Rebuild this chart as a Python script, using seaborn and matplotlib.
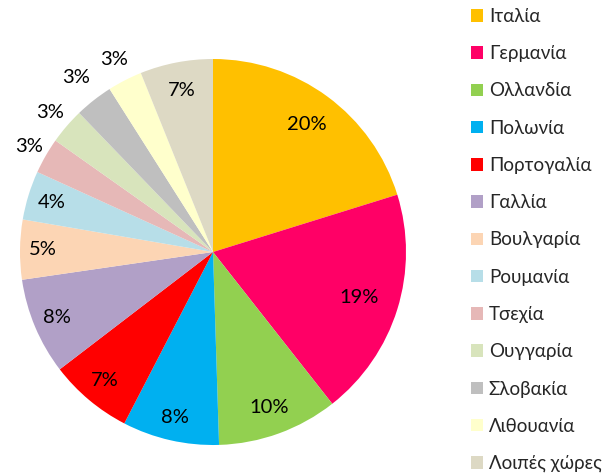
"""
Pie chart: share by country (Greek labels), recreated with seaborn styling + matplotlib pie.
"""

import matplotlib
matplotlib.use("Agg")
import matplotlib.pyplot as plt
import seaborn as sns
import numpy as np

# data
countries = ["Ιταλία", "Γερμανία", "Ολλανδία", "Πολωνία", "Πορτογαλία", "Γαλλία",
             "Βουλγαρία", "Ρουμανία", "Τσεχία", "Ουγγαρία", "Σλοβακία",
             "Λιθουανία", "Λοιπές χώρες"]
shares = [20.2, 19.2, 10.1, 8.1, 7.0, 8.1, 5.0, 4.1, 3.0, 3.0, 3.2, 2.9, 6.1]
pct_labels = ["20%", "19%", "10%", "8%", "7%", "8%", "5%", "4%",
              "3%", "3%", "3%", "3%", "7%"]

colors = ["#FFC000", "#FF0066", "#92D050", "#00B0F0", "#FF0000", "#B1A0C7",
          "#FCD5B4", "#B7DEE8", "#E6B8B7", "#D8E4BC", "#BFBFBF", "#FFFFCC", "#DDD9C4"]
# radial position of each percentage label (fraction of radius)
label_dist = [0.82, 0.79, 0.855, 0.88, 0.87, 0.875, 0.88, 0.874,
              1.10, 1.11, 1.147, 1.12, 0.855]

sns.set_style("white")
plt.rcParams["font.family"] = ["Lato", "DejaVu Sans"]

fig = plt.figure(figsize=(6.06, 4.76), dpi=100)
W, H = 606, 476
cx, cy, r = 213, 252, 193
ax = fig.add_axes([(cx - r) / W, (H - cy - r) / H, 2 * r / W, 2 * r / H])

wedges, _ = ax.pie(shares, colors=colors, startangle=90, counterclock=False,
                   radius=1.0, wedgeprops=dict(linewidth=0))

for w, txt, d in zip(wedges, pct_labels, label_dist):
    ang = np.deg2rad((w.theta1 + w.theta2) / 2)
    ax.text(d * np.cos(ang), d * np.sin(ang), txt, ha="center", va="center",
            fontsize=14.5, color="#000000")

ax.set_xlim(-1, 1)
ax.set_ylim(-1, 1)
ax.set_aspect("equal")
ax.axis("off")

fig.legend(wedges, countries, loc="upper left",
           bbox_to_anchor=(471 / W, 1 - 8 / H), frameon=False,
           fontsize=13.5, handlelength=0.65, handleheight=0.65,
           handletextpad=0.3, labelspacing=1.08, borderpad=0, borderaxespad=0)

plt.savefig("out.png", dpi=100)
plt.close()
